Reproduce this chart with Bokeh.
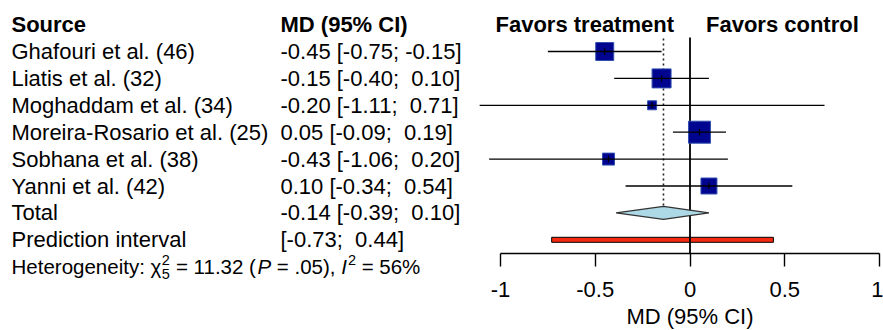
import math
from bokeh.plotting import figure
from bokeh.models import Range1d, LinearAxis, FixedTicker, ColumnDataSource
from bokeh.embed import file_html
from bokeh.resources import INLINE
from bokeh.core.properties import value

# ---------------- data ----------------
studies = ["Ghafouri et al. (46)", "Liatis et al. (32)", "Moghaddam et al. (34)",
           "Moreira-Rosario et al. (25)", "Sobhana et al. (38)", "Yanni et al. (42)"]
md = [-0.45, -0.15, -0.20, 0.05, -0.43, 0.10]
ci_lower = [-0.75, -0.40, -1.11, -0.09, -1.06, -0.34]
ci_upper = [-0.15, 0.10, 0.71, 0.19, 0.20, 0.54]
weights = [19.6, 21.9, 4.9, 29.3, 8.7, 15.5]   # % (square area)

total_label = "Total"
total_md = -0.14
total_lower = -0.39
total_upper = 0.10

pi_label = "Prediction interval"
pi_lower = -0.73
pi_upper = 0.44

het_chi2 = "11.32"
het_df = "5"
het_p = ".05"
het_i2 = "56%"

col_headers = ["Source", "MD (95% CI)"]
favors = ["Favors treatment", "Favors control"]
axis_title = "MD (95% CI)"
tick_values = [-1, -0.5, 0, 0.5, 1]
tick_labels = ["-1", "-0.5", "0", "0.5", "1"]

# ---------------- layout constants ----------------
FONT = "Liberation Sans"
W, H = 883, 330
PPU = 189.5          # pixels per MD unit
X0_PX = 689.5        # px where MD = 0
ROW_PX = 26.9
ROW0_PX = 51.0
AXIS_PX = 253.0
NB = "\u00a0"

x_start = -X0_PX / PPU
x_end = (W - X0_PX) / PPU
y_top = -ROW0_PX / ROW_PX
y_bot = (H - ROW0_PX) / ROW_PX


def px_to_x(px):
    return x_start + px / PPU


def px_to_y(py):
    return (py - ROW0_PX) / ROW_PX


def fmt_ci(lo, hi):
    hs = f"{hi:.2f}"
    if hi >= 0:
        hs = NB + hs
    return f"[{lo:.2f}; {hs}]"


n = len(studies)
rows = list(range(n))
total_row = n
pi_row = n + 1
het_row = n + 2
header_row = -1

p = figure(width=W, height=H, output_backend="svg", toolbar_location=None,
           x_range=Range1d(x_start, x_end), y_range=Range1d(y_bot, y_top),
           x_axis_type=None, y_axis_type=None,
           min_border_left=0, min_border_right=0, min_border_top=0, min_border_bottom=0)
p.outline_line_color = None
p.background_fill_color = "white"
p.border_fill_color = "white"

TXT = dict(text_font=value(FONT), text_baseline="middle", text_color="black")

# ---------------- left text columns ----------------
xL = px_to_x(11)
xM = px_to_x(280)
left_text = studies + [total_label, pi_label]
md_text = [f"{e:.2f} " + fmt_ci(l, u) for e, l, u in zip(md, ci_lower, ci_upper)]
md_text += [f"{total_md:.2f} " + fmt_ci(total_lower, total_upper), fmt_ci(pi_lower, pi_upper)]
text_rows = rows + [total_row, pi_row]

p.text(x=[xL] * len(left_text), y=text_rows, text=left_text,
       text_font_size="22px", text_align="left", **TXT)
p.text(x=[xM] * len(md_text), y=text_rows, text=md_text,
       text_font_size="22px", text_align="left", **TXT)
p.text(x=[xL, xM], y=[header_row, header_row], text=col_headers,
       text_font_size="22px", text_font_style="bold", text_align="left", **TXT)
p.text(x=[0], y=[header_row], text=[favors[0]], x_offset=-16,
       text_font_size="22px", text_font_style="bold", text_align="right", **TXT)
p.text(x=[0], y=[header_row], text=[favors[1]], x_offset=16,
       text_font_size="22px", text_font_style="bold", text_align="left", **TXT)

# ---------------- reference lines ----------------
p.rect(x=[(pi_lower + pi_upper) / 2], y=[pi_row], width=[pi_upper - pi_lower], height=5,
       height_units="screen", fill_color="#F52A0E", line_color="black", line_width=1)
p.segment(x0=[0], x1=[0], y0=[px_to_y(37)], y1=[px_to_y(AXIS_PX)],
          line_color="black", line_width=1.8)
p.segment(x0=[total_md], x1=[total_md], y0=[px_to_y(38)], y1=[total_row - 0.24],
          line_color="#222222", line_width=1.6, line_dash="2 3")

# ---------------- study squares & CIs ----------------
sides = [4.06 * math.sqrt(w) for w in weights]
src = ColumnDataSource(dict(x=md, y=rows, s=sides, lo=ci_lower, hi=ci_upper,
                            t0=[r - 0.12 for r in rows], t1=[r + 0.12 for r in rows]))
p.rect(x="x", y="y", width="s", height="s", width_units="screen", height_units="screen",
       source=src, fill_color="#00058F", line_color="#3050B0", line_width=1)
p.segment(x0="lo", x1="hi", y0="y", y1="y", source=src, line_color="black", line_width=1.3)
p.segment(x0="x", x1="x", y0="t0", y1="t1", source=src, line_color="black", line_width=1.2)

# ---------------- pooled diamond ----------------
p.patch(x=[total_lower, total_md, total_upper, total_md],
        y=[total_row, total_row - 0.24, total_row, total_row + 0.24],
        fill_color="#ADD8E6", line_color="#333333", line_width=1.3)

# ---------------- heterogeneity line ----------------
CW = {" ": 278, "%": 889, "(": 333, ")": 333, ",": 278, "-": 333, ".": 278, ":": 278,
      ";": 278, "=": 584, "H": 722, "I": 278, "P": 667, "e": 556, "g": 556, "h": 556,
      "i": 222, "n": 556, "o": 556, "r": 333, "t": 278, "y": 500, "\u03c7": 520}


def tw(s, size):
    return sum(CW.get(c, 556) for c in s) * size / 1000.0


HS = 20.5
SS = 14.5
pieces = []
cur = 11.0
t1 = "Heterogeneity: \u03c7"
pieces.append((t1, cur, HS, "normal", 0))
cur += tw(t1, HS)
pieces.append(("2", cur + 0.5, SS, "normal", -7))
pieces.append((het_df, cur + 0.5, SS, "normal", 7))
cur += tw("2", SS) + 1
t3 = f" = {het_chi2} ("
pieces.append((t3, cur, HS, "normal", 0))
cur += tw(t3, HS)
pieces.append(("P", cur, HS, "italic", 0))
cur += tw("P", HS)
t5 = f" = {het_p}), "
pieces.append((t5, cur, HS, "normal", 0))
cur += tw(t5, HS)
pieces.append(("I", cur, HS, "italic", 0))
cur += tw("I", HS) + 1
pieces.append(("2", cur, SS, "normal", -7))
cur += tw("2", SS)
t8 = f" = {het_i2}"
pieces.append((t8, cur, HS, "normal", 0))

for txt, xpx, size, style, dy in pieces:
    p.text(x=[px_to_x(xpx)], y=[het_row], y_offset=dy, text=[txt.replace(" ", NB)],
           text_font_size=f"{size}px", text_font_style=style, text_align="left", **TXT)

# ---------------- x axis ----------------
ax = LinearAxis(bounds=(tick_values[0], tick_values[-1]),
                ticker=FixedTicker(ticks=tick_values),
                major_label_overrides={v: s for v, s in zip(tick_values, tick_labels)},
                fixed_location=px_to_y(AXIS_PX))
ax.axis_line_color = "black"
ax.axis_line_width = 1.4
ax.major_tick_line_color = "black"
ax.major_tick_line_width = 1.4
ax.major_tick_out = 13
ax.major_tick_in = 0
ax.minor_tick_line_color = None
ax.major_label_standoff = 15
ax.major_label_text_font = FONT
ax.major_label_text_font_size = "22px"
ax.major_label_text_color = "black"
p.add_layout(ax, "below")

# axis title centred on MD = 0
p.text(x=[0], y=[px_to_y(315.5)], text=[axis_title], text_font_size="22px",
       text_align="center", **TXT)

open("out.html", "w").write(file_html(p, INLINE))
